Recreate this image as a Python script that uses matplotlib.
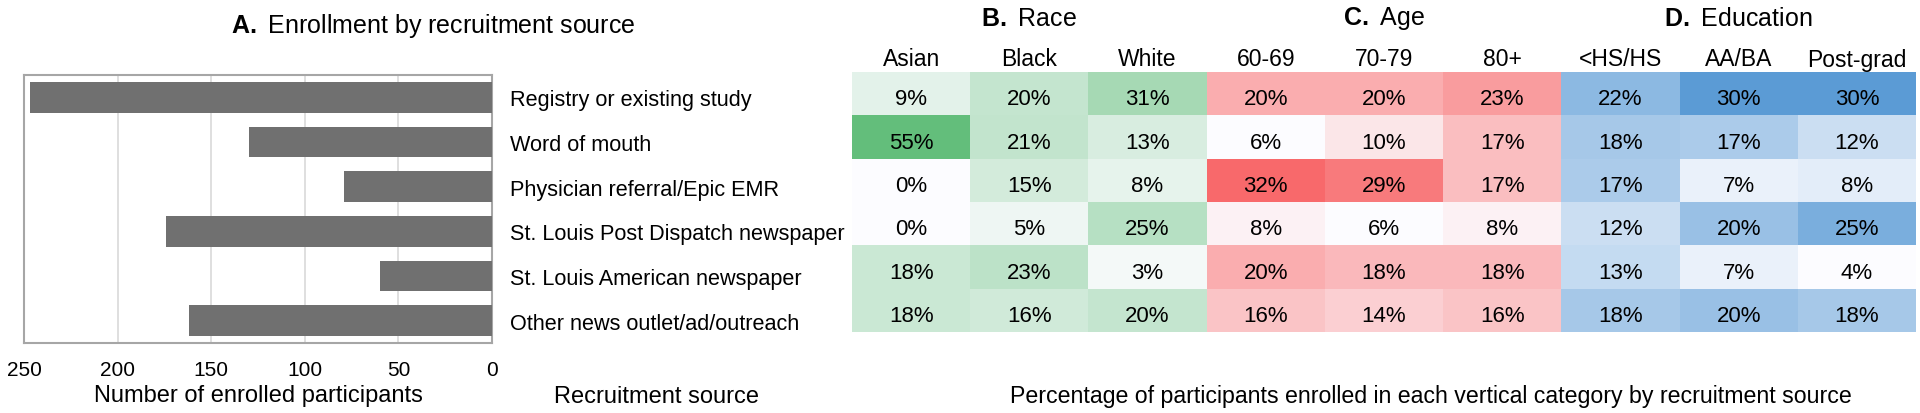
import numpy as np
import matplotlib
matplotlib.use("Agg")
import matplotlib.pyplot as plt
from matplotlib.colors import LinearSegmentedColormap

plt.rcParams["font.family"] = ["Liberation Sans", "DejaVu Sans"]
plt.rcParams["mathtext.fontset"] = "custom"
plt.rcParams["mathtext.bf"] = "Liberation Sans:bold"
plt.rcParams["mathtext.rm"] = "Liberation Sans"

sources = [
    "Registry or existing study",
    "Word of mouth",
    "Physician referral/Epic EMR",
    "St. Louis Post Dispatch newspaper",
    "St. Louis American newspaper",
    "Other news outlet/ad/outreach",
]
enrolled = [247, 130, 79, 174, 60, 162]

race_cols = ["Asian", "Black", "White"]
race_pct = [
    [9, 20, 31],
    [55, 21, 13],
    [0, 15, 8],
    [0, 5, 25],
    [18, 23, 3],
    [18, 16, 20],
]
age_cols = ["60-69", "70-79", "80+"]
age_pct = [
    [20, 20, 23],
    [6, 10, 17],
    [32, 29, 17],
    [8, 6, 8],
    [20, 18, 18],
    [16, 14, 16],
]
edu_cols = ["<HS/HS", "AA/BA", "Post-grad"]
edu_pct = [
    [22, 30, 30],
    [18, 17, 12],
    [17, 7, 8],
    [12, 20, 25],
    [13, 7, 4],
    [18, 20, 18],
]

groups = [
    ("B.", " Race", race_cols, race_pct, "#63BE7B"),
    ("C.", " Age", age_cols, age_pct, "#F8696B"),
    ("D.", " Education", edu_cols, edu_pct, "#5B9BD5"),
]

W, H = 1920, 414
fig = plt.figure(figsize=(W / 100, H / 100), dpi=100)


def fx(px):
    return px / W


def fy(py):
    return 1 - py / H


# --- A: bar chart (reversed x) ---
ax = fig.add_axes([fx(24), fy(344), fx(492 - 24), fy(76) - fy(344)])
y = np.arange(len(sources))
ax.barh(y, enrolled, height=0.68, color="#707070", zorder=3)
ax.set_xlim(250, 0)
ax.set_ylim(len(sources) - 0.5, -0.5)
ax.set_xticks([250, 200, 150, 100, 50, 0])
ax.tick_params(axis="x", length=0, labelsize=15, pad=12)
ax.xaxis.grid(True, color="#d9d9d9", lw=1.2, zorder=0)
ax.yaxis.tick_right()
ax.set_yticks(y)
ax.set_yticklabels(sources, fontsize=15.6)
ax.tick_params(axis="y", length=0, pad=13)
for s in ax.spines.values():
    s.set_color("#a6a6a6")
    s.set_linewidth(1.5)
ax.set_xlabel("Number of enrolled participants", fontsize=17, labelpad=4)

fig.text(fx(433), fy(26), r"$\mathbf{A.}$ Enrollment by recruitment source",
         ha="center", va="center", fontsize=18)
fig.text(fx(657), fy(397), "Recruitment source", ha="center", va="center", fontsize=17)

# --- B-D: heatmap ---
hx = fig.add_axes([fx(852), fy(333), fx(1916 - 852), fy(73) - fy(333)])
ncols = sum(len(g[2]) for g in groups)
hx.set_xlim(0, ncols)
hx.set_ylim(len(sources), 0)
hx.axis("off")

col0 = 0
for letter, name, cols, vals, color in groups:
    arr = np.array(vals, dtype=float)
    cmap = LinearSegmentedColormap.from_list(name, ["#FCFCFF", color])
    xe = np.arange(col0, col0 + len(cols) + 1)
    ye = np.arange(len(sources) + 1)
    hx.pcolormesh(xe, ye, arr, cmap=cmap, vmin=arr.min(), vmax=arr.max(),
                  edgecolor="none", antialiased=False)
    for r in range(arr.shape[0]):
        for c in range(arr.shape[1]):
            hx.text(col0 + c + 0.5, r + 0.62, f"{int(arr[r, c])}%",
                    ha="center", va="center", fontsize=16)
    for c, lab in enumerate(cols):
        hx.text(col0 + c + 0.5, -0.3, lab, ha="center", va="center",
                fontsize=16.5, clip_on=False)
    hx.text(col0 + len(cols) / 2, -1.25, rf"$\mathbf{{{letter}}}${name}", ha="center",
            va="center", fontsize=18, clip_on=False)
    col0 += len(cols)

fig.text(fx(1431), fy(397),
         "Percentage of participants enrolled in each vertical category by recruitment source",
         ha="center", va="center", fontsize=16.7)

fig.savefig("out.png", dpi=100)
